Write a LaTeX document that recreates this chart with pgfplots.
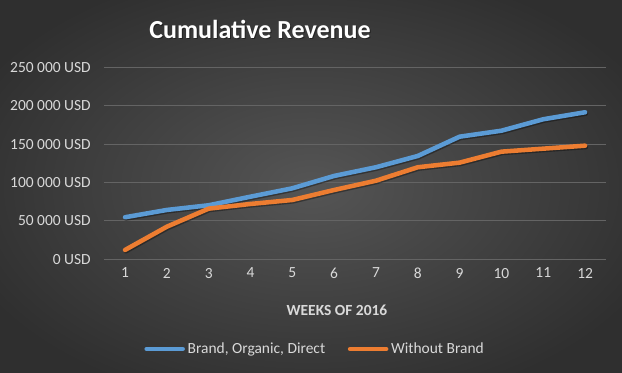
\documentclass[border=0pt]{standalone}
\usepackage{fontspec}
\setmainfont{Carlito}
\usepackage{pgfplots}
\pgfplotsset{compat=1.18}
\definecolor{bgin}{HTML}{555555}
\definecolor{bgout}{HTML}{2F2F2F}
\definecolor{gridc}{HTML}{646464}
\definecolor{txtc}{HTML}{D9D9D9}
\definecolor{sblue}{HTML}{5B9BD5}
\definecolor{sorange}{HTML}{ED7D31}
\begin{document}
\begin{tikzpicture}
\useasboundingbox (0pt,0pt) rectangle (466.5pt,279.75pt);
\shade[inner color=bgin, outer color=bgout] (-45pt,-30pt) rectangle (511.5pt,309.75pt);
\node[font=\fontsize{19.5}{22}\selectfont\bfseries, text=black, opacity=0.4] at (195.8pt,257.2pt) {Cumulative Revenue};
\node[font=\fontsize{19.5}{22}\selectfont\bfseries, text=white] at (195pt,258pt) {Cumulative Revenue};
\node[font=\fontsize{11.6}{14}\selectfont\bfseries, text=txtc] at (252.75pt,47.25pt) {WEEKS OF 2016};
\begin{axis}[
  at={(78.1pt,85.3pt)}, anchor=south west,
  scale only axis, width=376.4pt, height=144pt,
  xmin=0.5, xmax=12.5, ymin=0, ymax=250000,
  xtick={1,...,12},
  ytick={0,50000,100000,150000,200000,250000},
  yticklabels={0 USD,50 000 USD,100 000 USD,150 000 USD,200 000 USD,250 000 USD},
  scaled y ticks=false,
  axis line style={draw=none},
  tick style={draw=none},
  ymajorgrids, grid style={gridc, line width=0.75pt},
  ticklabel style={font=\fontsize{11.6}{14}\selectfont, text=txtc},
  /pgf/number format/assume math mode=true,
  yticklabel style={xshift=-6.5pt},
  xticklabel style={yshift=-3pt},
  legend columns=2,
  legend style={at={(0.421,-0.467)}, anchor=center, draw=none, fill=none,
    font=\fontsize{11.6}{14}\selectfont, text=txtc,
    /tikz/every even column/.append style={column sep=15pt}},
  legend image code/.code={\draw[#1, line cap=round] (0pt,0pt) -- (27pt,0pt);},
  clip=false,
]
\addplot[black, opacity=0.35, line width=3.4pt, line cap=round, line join=round, forget plot, transform canvas={xshift=0.6pt,yshift=-1pt}] coordinates {
(1,54700) (2,64200) (3,70300) (4,81500) (5,92400) (6,108500) (7,119800) (8,134500) (9,159600) (10,167400) (11,182300) (12,191400)};
\addplot[black, opacity=0.35, line width=3.4pt, line cap=round, line join=round, forget plot, transform canvas={xshift=0.6pt,yshift=-1pt}] coordinates {
(1,12100) (2,42400) (3,65900) (4,72000) (5,77200) (6,90200) (7,102300) (8,119800) (9,125800) (10,140100) (11,144000) (12,147900)};
\addplot[sblue, line width=3.4pt, line cap=round, line join=round] coordinates {
(1,54700) (2,64200) (3,70300) (4,81500) (5,92400) (6,108500) (7,119800) (8,134500) (9,159600) (10,167400) (11,182300) (12,191400)};
\addlegendentry{Brand, Organic, Direct}
\addplot[sorange, line width=3.4pt, line cap=round, line join=round] coordinates {
(1,12100) (2,42400) (3,65900) (4,72000) (5,77200) (6,90200) (7,102300) (8,119800) (9,125800) (10,140100) (11,144000) (12,147900)};
\addlegendentry{Without Brand}
\end{axis}
\end{tikzpicture}
\end{document}
